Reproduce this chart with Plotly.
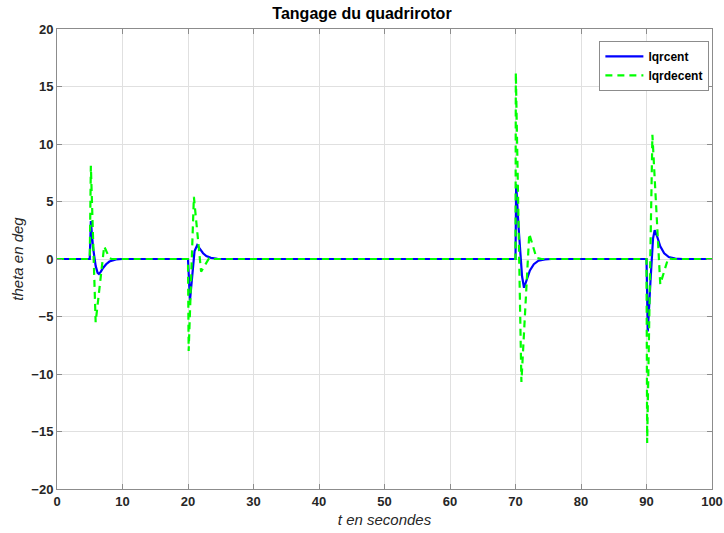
import plotly.graph_objects as go

# Pitch response (deg) of the centralised LQR controller
t_cent = [0, 5.0, 5.17, 5.5, 5.9, 6.2, 6.4, 6.7, 7.0, 7.5, 8.0, 8.5, 9.0, 10.0,
          20.0, 20.3, 20.6, 21.0, 21.4, 21.8, 22.3, 22.8, 23.5, 24.5, 25.5,
          70.0, 70.1, 70.5, 71.0, 71.3, 71.7, 72.2, 72.8, 73.5, 74.5, 75.5,
          90.0, 90.2, 90.6, 91.0, 91.25, 91.6, 92.1, 92.7, 93.4, 94.4, 95.5, 100]
theta_cent = [0, 0, 3.3, 1.0, -0.6, -1.2, -1.3, -1.1, -0.8, -0.45, -0.22, -0.1, -0.04, 0,
              0, -3.6, -1.5, 0.7, 1.2, 0.9, 0.5, 0.25, 0.1, 0.02, 0,
              0, 6.5, 2.5, -1.5, -2.5, -1.8, -1.0, -0.45, -0.15, -0.03, 0,
              0, -6.3, -2.0, 1.8, 2.5, 2.0, 1.1, 0.5, 0.17, 0.03, 0, 0]

# Pitch response (deg) of the decentralised LQR controller
t_decent = [0, 5.0, 5.17, 5.9, 7.2, 8.0, 8.3,
            20.0, 20.1, 20.9, 22.0, 23.2, 23.6,
            70.0, 70.05, 70.9, 72.1, 73.2, 74.0,
            90.0, 90.1, 90.9, 92.1, 93.3, 94.0, 100]
theta_decent = [0, 0, 8.1, -5.5, 1.1, 0.1, 0,
                0, -8.0, 5.4, -1.1, 0.05, 0,
                0, 16.2, -10.7, 2.2, 0.1, 0,
                0, -16.0, 10.8, -2.2, 0.05, 0, 0]

x_ticks = list(range(0, 101, 10))
y_ticks = list(range(-20, 21, 5))

fig = go.Figure()
fig.add_trace(go.Scatter(x=t_cent, y=theta_cent, mode="lines", name="lqrcent",
                         line=dict(color="#0000ff", width=2.2)))
fig.add_trace(go.Scatter(x=t_decent, y=theta_decent, mode="lines", name="lqrdecent",
                         line=dict(color="#00ff00", width=2.2, dash="7px,5px")))

font_family = "Liberation Sans, Arial, sans-serif"
axis_common = dict(showline=True, linecolor="#8c8c8c", linewidth=1, mirror="ticks",
                   ticks="inside", ticklen=5, tickcolor="#8c8c8c",
                   showgrid=True, gridcolor="#e0e0e0", gridwidth=1, zeroline=False,
                   automargin=False,
                   tickfont=dict(family=font_family, size=13, color="#262626", weight="bold"))

fig.update_xaxes(range=[0, 100], tickvals=x_ticks,
                 title=dict(text="t en secondes", standoff=6,
                            font=dict(family=font_family, size=15, color="#262626",
                                      style="italic")),
                 **axis_common)
fig.update_yaxes(range=[-20, 20], tickvals=y_ticks,
                 title=dict(text="theta en deg", standoff=4,
                            font=dict(family=font_family, size=15, color="#262626",
                                      style="italic")),
                 **axis_common)

fig.update_layout(
    width=724, height=533,
    margin=dict(l=57, r=12, t=29, b=44),
    paper_bgcolor="white", plot_bgcolor="white",
    title=dict(text="<b>Tangage du quadrirotor</b>", x=0.5, xanchor="center",
               y=0.985, yanchor="top",
               font=dict(family=font_family, size=16, color="#000000")),
    legend=dict(x=0.996, y=0.974, xanchor="right", yanchor="top",
                bgcolor="white", bordercolor="#8c8c8c", borderwidth=1,
                font=dict(family=font_family, size=12, color="#000000", weight="bold"),
                tracegroupgap=0, itemwidth=38),
    showlegend=True,
)

fig.write_html("out.html")
